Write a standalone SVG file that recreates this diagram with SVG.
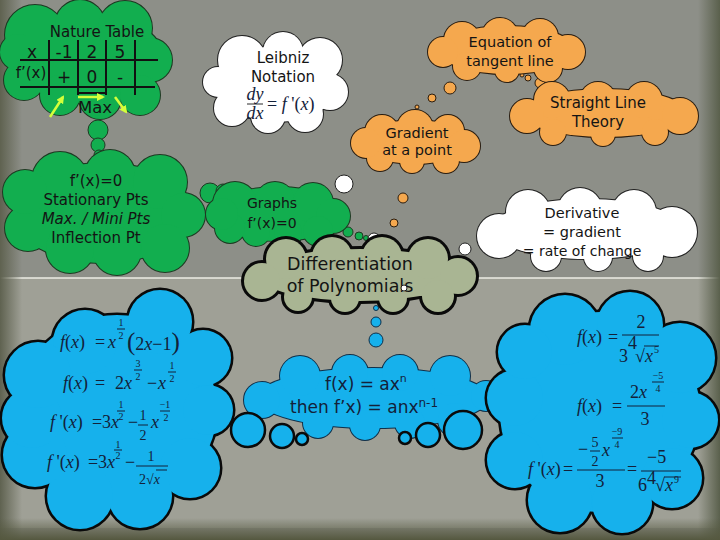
<svg xmlns="http://www.w3.org/2000/svg" xmlns:xlink="http://www.w3.org/1999/xlink" width="720" height="540" viewBox="0 0 720 540">
<style>
.t{font-family:"DejaVu Sans",sans-serif;fill:#141414;text-anchor:middle}
.ts{font-family:"DejaVu Sans",sans-serif;fill:#13213a;text-anchor:start;font-size:17px}
.m{font-family:"Liberation Serif",serif;fill:#13213a;font-size:18px}
.s{font-size:10px}
.f{font-size:14px}
.c{text-anchor:middle}
.i{font-style:italic}
.gS{fill:#12ae4f;stroke:#1d3a22;stroke-width:2}.gF{fill:#12ae4f}
.oS{fill:#f5a84e;stroke:#2a1d10;stroke-width:2}.oF{fill:#f5a84e}
.wS{fill:#fff;stroke:#222;stroke-width:2}.wF{fill:#fff}
.dS{fill:#a9b593;stroke:#0a0a0a;stroke-width:6}.dF{fill:#a9b593}
.bS{fill:#16b1ec;stroke:#0a0a0a;stroke-width:5}.bF{fill:#16b1ec}
.mS{fill:#16b1ec;stroke:#10304a;stroke-width:2}.mF{fill:#16b1ec}
.bub-g{fill:#12ae4f;stroke:#1d3a22;stroke-width:1}
.bub-o{fill:#f5a84e;stroke:#2a1d10;stroke-width:1}
.bub-w{fill:#fff;stroke:#222;stroke-width:1}
.bub-b{fill:#16b1ec;stroke:#10304a;stroke-width:1}
.bub-k{fill:#16b1ec;stroke:#0a0a0a;stroke-width:2.5}
.tl{stroke:#111;stroke-width:2;fill:none}
.ya{stroke:#d4ff3a;stroke-width:2.5;fill:none;marker-end:url(#yh)}
.bar{stroke:#13213a;stroke-width:1}
</style>
<defs>
<marker id="yh" markerWidth="8" markerHeight="8" refX="6" refY="4" orient="auto" markerUnits="userSpaceOnUse">
<path d="M0,0 L8,4 L0,8 Z" fill="#d4ff3a"/>
</marker>
<linearGradient id="lg" x1="0" y1="0" x2="1" y2="0">
<stop offset="0" stop-color="#5f6250"/><stop offset="1" stop-color="#5f6250" stop-opacity="0"/>
</linearGradient>
<linearGradient id="rg" x1="1" y1="0" x2="0" y2="0">
<stop offset="0" stop-color="#5a604c"/><stop offset="1" stop-color="#5a604c" stop-opacity="0"/>
</linearGradient>
<linearGradient id="bg2" x1="0" y1="1" x2="0" y2="0">
<stop offset="0" stop-color="#55583f"/><stop offset="1" stop-color="#55583f" stop-opacity="0"/>
</linearGradient>
<g id="cl-table">
<ellipse cx="88" cy="58" rx="75" ry="45"/>
<circle cx="35" cy="35" r="30"/><circle cx="80" cy="25" r="25"/><circle cx="125" cy="28" r="27"/>
<circle cx="150" cy="60" r="22"/><circle cx="140" cy="95" r="20"/><circle cx="100" cy="98" r="21"/>
<circle cx="60" cy="95" r="20"/><circle cx="24" cy="80" r="20"/><circle cx="18" cy="52" r="18"/>
</g>
<g id="cl-stat">
<ellipse cx="103" cy="213" rx="90" ry="50"/>
<circle cx="60" cy="180" r="28"/><circle cx="110" cy="175" r="25"/><circle cx="160" cy="182" r="27"/>
<circle cx="183" cy="215" r="22"/><circle cx="165" cy="248" r="24"/><circle cx="117" cy="251" r="24"/>
<circle cx="70" cy="249" r="24"/><circle cx="28" cy="228" r="23"/><circle cx="25" cy="192" r="22"/>
</g>
<g id="cl-graphs">
<ellipse cx="278" cy="214" rx="66" ry="27"/>
<circle cx="235" cy="204" r="22"/><circle cx="275" cy="202" r="20"/><circle cx="313" cy="203" r="20"/>
<circle cx="333" cy="216" r="17"/><circle cx="318" cy="231" r="15"/><circle cx="288" cy="233" r="14"/>
<circle cx="256" cy="232" r="14"/><circle cx="230" cy="228" r="15"/><circle cx="222" cy="214" r="16"/>
</g>
<g id="cl-leib">
<ellipse cx="278" cy="84" rx="60" ry="38"/>
<circle cx="242" cy="60" r="24"/><circle cx="283" cy="52" r="20"/><circle cx="320" cy="60" r="22"/>
<circle cx="330" cy="92" r="18"/><circle cx="305" cy="114" r="18"/><circle cx="268" cy="116" r="17"/>
<circle cx="232" cy="108" r="18"/><circle cx="218" cy="82" r="15"/>
</g>
<g id="cl-eq">
<ellipse cx="507" cy="50" rx="68" ry="24"/>
<circle cx="462" cy="40" r="18"/><circle cx="500" cy="36" r="18"/><circle cx="540" cy="37" r="18"/>
<circle cx="568" cy="52" r="17"/><circle cx="548" cy="68" r="14"/><circle cx="507" cy="70" r="12"/>
<circle cx="467" cy="66" r="14"/><circle cx="443" cy="52" r="15"/>
</g>
<g id="cl-sl">
<ellipse cx="605" cy="113" rx="82" ry="24"/>
<circle cx="552" cy="100" r="18"/><circle cx="598" cy="100" r="18"/><circle cx="644" cy="100" r="18"/>
<circle cx="680" cy="116" r="18"/><circle cx="655" cy="132" r="13"/><circle cx="603" cy="134" r="12"/>
<circle cx="553" cy="132" r="13"/><circle cx="527" cy="116" r="17"/>
</g>
<g id="cl-grad">
<ellipse cx="415" cy="142" rx="55" ry="22"/>
<circle cx="382" cy="132" r="17"/><circle cx="415" cy="128" r="18"/><circle cx="448" cy="131" r="16"/>
<circle cx="464" cy="146" r="16"/><circle cx="446" cy="160" r="13"/><circle cx="412" cy="161" r="12"/>
<circle cx="380" cy="158" r="13"/><circle cx="366" cy="143" r="15"/>
</g>
<g id="cl-der">
<ellipse cx="587" cy="229" rx="95" ry="30"/>
<circle cx="528" cy="212" r="22"/><circle cx="580" cy="210" r="22"/><circle cx="634" cy="212" r="22"/>
<circle cx="672" cy="232" r="25"/><circle cx="648" cy="256" r="15"/><circle cx="598" cy="257" r="14"/>
<circle cx="546" cy="256" r="15"/><circle cx="499" cy="236" r="22"/>
</g>
<g id="cl-diff">
<ellipse cx="360" cy="275" rx="102" ry="26"/>
<circle cx="286" cy="259" r="20"/><circle cx="332" cy="257" r="20"/><circle cx="382" cy="257" r="20"/>
<circle cx="428" cy="259" r="20"/><circle cx="458" cy="276" r="18"/><circle cx="438" cy="296" r="16"/>
<circle cx="393" cy="298" r="14"/><circle cx="345" cy="298" r="14"/><circle cx="298" cy="297" r="14"/>
<circle cx="262" cy="281" r="18"/>
</g>
<g id="cl-mid">
<ellipse cx="373" cy="398" rx="116" ry="30"/>
<circle cx="300" cy="376" r="20"/><circle cx="350" cy="373" r="18"/><circle cx="400" cy="373" r="18"/>
<circle cx="450" cy="376" r="20"/><circle cx="486" cy="396" r="15"/><circle cx="455" cy="420" r="17"/>
<circle cx="410" cy="423" r="15"/><circle cx="365" cy="425" r="15"/><circle cx="318" cy="423" r="15"/>
<circle cx="262" cy="400" r="18"/>
</g>
<g id="cl-left">
<ellipse cx="117" cy="410" rx="100" ry="95"/>
<circle cx="85" cy="342" r="32"/><circle cx="160" cy="322" r="32"/><circle cx="203" cy="358" r="28"/>
<circle cx="208" cy="410" r="25"/><circle cx="190" cy="468" r="30"/><circle cx="140" cy="496" r="32"/>
<circle cx="80" cy="496" r="33"/><circle cx="35" cy="455" r="32"/><circle cx="32" cy="418" r="30"/>
<circle cx="38" cy="375" r="33"/>
</g>
<g id="cl-right">
<ellipse cx="600" cy="412" rx="100" ry="100"/>
<circle cx="565" cy="330" r="35"/><circle cx="630" cy="325" r="33"/><circle cx="680" cy="358" r="35"/>
<circle cx="690" cy="420" r="28"/><circle cx="672" cy="478" r="30"/><circle cx="622" cy="503" r="30"/>
<circle cx="560" cy="500" r="32"/><circle cx="515" cy="460" r="28"/><circle cx="515" cy="398" r="28"/>
<circle cx="525" cy="352" r="27"/>
</g>
</defs>

<g id="background">
<rect width="720" height="540" fill="#8d8f88"/>
<rect y="278" width="720" height="250" fill="#9fa096"/>
<line x1="0" y1="278" x2="720" y2="278" stroke="#ecece4" stroke-width="1.5"/>
<rect width="22" height="540" fill="url(#lg)"/>
<rect x="698" width="22" height="540" fill="url(#rg)"/>
<rect y="518" width="720" height="22" fill="url(#bg2)"/>
</g>

<g id="connectors">
<circle class="bub-g" cx="98" cy="130" r="10"/>
<circle class="bub-g" cx="98" cy="145" r="7"/>
<circle class="bub-g" cx="99" cy="155" r="5"/>
<circle class="bub-g" cx="210" cy="193" r="10"/>
<circle class="bub-g" cx="223" cy="191" r="7"/>
<circle class="bub-g" cx="230" cy="190" r="5"/>
<circle class="bub-g" cx="348" cy="232" r="5"/>
<circle class="bub-g" cx="359" cy="236" r="4"/>
<circle class="bub-g" cx="366" cy="238" r="2.5"/>
<circle class="bub-w" cx="344" cy="184" r="9"/>
<circle class="bub-w" cx="374" cy="239" r="6"/>
<circle class="bub-w" cx="420" cy="258" r="3"/>
<circle class="bub-w" cx="439" cy="255" r="5"/>
<circle class="bub-w" cx="465" cy="249" r="6"/>
<circle class="bub-o" cx="403" cy="198" r="5"/>
<circle class="bub-o" cx="394" cy="223" r="4"/>
<circle class="bub-o" cx="387" cy="245" r="2"/>
<circle class="bub-o" cx="417" cy="107" r="2"/>
<circle class="bub-o" cx="432" cy="98" r="4"/>
<circle class="bub-o" cx="450" cy="88" r="6"/>
<circle class="bub-o" cx="522" cy="75" r="2"/>
<circle class="bub-o" cx="528" cy="78" r="3"/>
<circle class="bub-o" cx="540" cy="83" r="5"/>
<circle class="bub-b" cx="376" cy="308" r="2.5"/>
<circle class="bub-b" cx="376" cy="322" r="5"/>
<circle class="bub-b" cx="376" cy="340" r="7"/>
</g>

<g id="node-table">
<use xlink:href="#cl-table" href="#cl-table" class="gS"/>
<use xlink:href="#cl-table" href="#cl-table" class="gF"/>
<text class="t" x="97" y="37" font-size="15">Nature Table</text>
<path class="tl" d="M20,60 H158 M20,87 H155 M49,40 V95 M78,40 V95 M106,40 V95 M135,40 V95 M78,93 H106"/>
<text class="t" font-size="17" y="58"><tspan x="32">x</tspan><tspan x="64">-1</tspan><tspan x="92">2</tspan><tspan x="120">5</tspan></text>
<text class="t" x="31" y="78" font-size="15">f’(x)</text>
<text class="t" font-size="17" y="83"><tspan x="64">+</tspan><tspan x="92">0</tspan><tspan x="120">-</tspan></text>
<text class="t" x="95" y="113" font-size="16.5">Max</text>
<line class="ya" x1="50" y1="117" x2="63" y2="97"/>
<line class="ya" x1="78" y1="97" x2="103" y2="97"/>
<line class="ya" x1="115" y1="97" x2="126" y2="112"/>
</g>

<g id="node-stationary">
<use xlink:href="#cl-stat" href="#cl-stat" class="gS"/>
<use xlink:href="#cl-stat" href="#cl-stat" class="gF"/>
<text class="t" x="96" y="186" font-size="15">f’(x)=0</text>
<text class="t" x="96" y="205" font-size="15">Stationary Pts</text>
<text class="t" x="96" y="224" font-size="15" font-style="italic">Max. / Mini Pts</text>
<text class="t" x="96" y="243" font-size="15">Inflection Pt</text>
</g>

<g id="node-graphs">
<use xlink:href="#cl-graphs" href="#cl-graphs" class="gS"/>
<use xlink:href="#cl-graphs" href="#cl-graphs" class="gF"/>
<text class="t" x="272" y="208" font-size="14">Graphs</text>
<text class="t" x="272" y="228" font-size="14">f’(x)=0</text>
</g>

<g id="node-leibniz">
<use xlink:href="#cl-leib" href="#cl-leib" class="wS"/>
<use xlink:href="#cl-leib" href="#cl-leib" class="wF"/>
<text class="t" x="283" y="63" font-size="15">Leibniz</text>
<text class="t" x="283" y="82" font-size="15">Notation</text>
<text class="m i c" x="255" y="100" font-size="13" fill="#2a2a2a">dy</text>
<line x1="247" y1="104" x2="263" y2="104" stroke="#2a2a2a" stroke-width="1"/>
<text class="m i c" x="255" y="119" font-size="13" fill="#2a2a2a">dx</text>
<text class="m" x="267" y="110" font-size="14" fill="#2a2a2a">= <tspan class="i">f</tspan> '(<tspan class="i">x</tspan>)</text>
</g>

<g id="node-equation">
<use xlink:href="#cl-eq" href="#cl-eq" class="oS"/>
<use xlink:href="#cl-eq" href="#cl-eq" class="oF"/>
<text class="t" x="510" y="47" font-size="14.5">Equation of</text>
<text class="t" x="510" y="66" font-size="14.5">tangent line</text>
</g>

<g id="node-straight">
<use xlink:href="#cl-sl" href="#cl-sl" class="oS"/>
<use xlink:href="#cl-sl" href="#cl-sl" class="oF"/>
<text class="t" x="598" y="108" font-size="15">Straight Line</text>
<text class="t" x="598" y="127" font-size="15">Theory</text>
</g>

<g id="node-gradient">
<use xlink:href="#cl-grad" href="#cl-grad" class="oS"/>
<use xlink:href="#cl-grad" href="#cl-grad" class="oF"/>
<text class="t" x="417" y="138" font-size="14.5">Gradient</text>
<text class="t" x="417" y="155" font-size="14.5">at a point</text>
</g>

<g id="node-derivative">
<use xlink:href="#cl-der" href="#cl-der" class="wS"/>
<use xlink:href="#cl-der" href="#cl-der" class="wF"/>
<text class="t" x="582" y="218" font-size="14.5">Derivative</text>
<text class="t" x="582" y="237" font-size="14.5">= gradient</text>
<text class="t" x="582" y="256" font-size="14">= rate of change</text>
</g>

<g id="node-differentiation">
<use xlink:href="#cl-diff" href="#cl-diff" class="dS"/>
<use xlink:href="#cl-diff" href="#cl-diff" class="dF"/>
<text class="t" x="350" y="270" font-size="17.5">Differentiation</text>
<text class="t" x="350" y="292" font-size="17.5">of Polynomials</text>
<circle class="bub-w" cx="404" cy="288" r="3"/>
</g>

<g id="node-example1">
<use xlink:href="#cl-left" href="#cl-left" class="bS"/>
<use xlink:href="#cl-left" href="#cl-left" class="bF"/>
<text class="m" x="60" y="348"><tspan class="i">f</tspan>(<tspan class="i">x</tspan>)<tspan x="95">=</tspan><tspan x="108" class="i">x</tspan></text>
<text class="m s c" x="121" y="326">1</text><line class="bar" x1="117" y1="329" x2="125" y2="329"/><text class="m s c" x="121" y="339">2</text>
<text class="m" x="127" y="350"><tspan font-size="25">(</tspan>2<tspan class="i">x</tspan>−1<tspan font-size="25">)</tspan></text>
<text class="m" x="63" y="389"><tspan class="i">f</tspan>(<tspan class="i">x</tspan>)<tspan x="95">=</tspan><tspan x="115">2</tspan><tspan class="i">x</tspan></text>
<text class="m s c" x="138" y="367">3</text><line class="bar" x1="134" y1="370" x2="142" y2="370"/><text class="m s c" x="138" y="380">2</text>
<text class="m" x="147" y="389">−<tspan class="i" x="158">x</tspan></text>
<text class="m s c" x="172" y="369">1</text><line class="bar" x1="168" y1="372" x2="176" y2="372"/><text class="m s c" x="172" y="382">2</text>
<text class="m" x="50" y="428"><tspan class="i">f</tspan> '(<tspan class="i">x</tspan>)<tspan x="92">=</tspan><tspan x="102">3</tspan><tspan class="i">x</tspan></text>
<text class="m s c" x="121" y="408">1</text><line class="bar" x1="117" y1="411" x2="125" y2="411"/><text class="m s c" x="121" y="420">2</text>
<text class="m" x="128" y="428">−</text>
<text class="m f c" x="143" y="420">1</text><line class="bar" x1="138" y1="425" x2="148" y2="425"/><text class="m f c" x="143" y="440">2</text>
<text class="m i" x="151" y="428">x</text>
<text class="m s c" x="165" y="408">−1</text><line class="bar" x1="160" y1="411" x2="170" y2="411"/><text class="m s c" x="166" y="421">2</text>
<text class="m" x="47" y="468"><tspan class="i">f</tspan> '(<tspan class="i">x</tspan>)<tspan x="88">=</tspan><tspan x="98">3</tspan><tspan class="i">x</tspan></text>
<text class="m s c" x="118" y="448">1</text><line class="bar" x1="114" y1="450" x2="122" y2="450"/><text class="m s c" x="118" y="459">2</text>
<text class="m" x="125" y="468">−</text>
<text class="m f c" x="151" y="461">1</text><line class="bar" x1="136" y1="466" x2="168" y2="466"/>
<text class="m f" x="139" y="484">2√<tspan class="i">x</tspan></text><line class="bar" x1="156" y1="470" x2="167" y2="470"/>
</g>

<g id="node-rule">
<use xlink:href="#cl-mid" href="#cl-mid" class="mS"/>
<use xlink:href="#cl-mid" href="#cl-mid" class="mF"/>
<circle class="bub-k" cx="248" cy="430" r="17"/>
<circle class="bub-k" cx="282" cy="436" r="12"/>
<circle class="bub-k" cx="302" cy="439" r="6"/>
<circle class="bub-k" cx="405" cy="438" r="6"/>
<circle class="bub-k" cx="428" cy="435" r="12"/>
<circle class="bub-k" cx="463" cy="430" r="19"/>
<text class="ts" x="325" y="390">f(x) = ax<tspan font-size="11" dy="-8">n</tspan></text>
<text class="ts" x="290" y="413">then f’x) = anx<tspan font-size="12" dy="-6">n-1</tspan></text>
</g>

<g id="node-example2">
<use xlink:href="#cl-right" href="#cl-right" class="bS"/>
<use xlink:href="#cl-right" href="#cl-right" class="bF"/>
<text class="m" x="577" y="343"><tspan class="i">f</tspan>(<tspan class="i">x</tspan>)<tspan x="608">=</tspan></text>
<text class="m c" x="641" y="328">2</text>
<line class="bar" x1="622" y1="335" x2="659" y2="335"/>
<text class="m" x="619" y="362">3</text>
<text class="m" x="628" y="349" font-size="8">4</text>
<text class="m" x="635" y="362">√</text>
<line class="bar" x1="644" y1="346" x2="659" y2="346"/>
<text class="m i" x="645" y="362">x</text>
<text class="m s" x="654" y="353">5</text>
<text class="m" x="577" y="412"><tspan class="i">f</tspan>(<tspan class="i">x</tspan>)<tspan x="612">=</tspan></text>
<text class="m" x="630" y="398">2<tspan class="i">x</tspan></text>
<text class="m s c" x="658" y="379">−5</text><line class="bar" x1="652" y1="382" x2="664" y2="382"/><text class="m s c" x="658" y="392">4</text>
<line class="bar" x1="627" y1="406" x2="665" y2="406"/>
<text class="m c" x="645" y="425">3</text>
<text class="m" x="528" y="475"><tspan class="i">f</tspan> '(<tspan class="i">x</tspan>)<tspan x="563">=</tspan></text>
<text class="m" x="578" y="455">−</text>
<text class="m f c" x="595" y="447">5</text><line class="bar" x1="590" y1="451" x2="600" y2="451"/><text class="m f c" x="595" y="466">2</text>
<text class="m i" x="602" y="456">x</text>
<text class="m s c" x="617" y="435">−9</text><line class="bar" x1="612" y1="438" x2="623" y2="438"/><text class="m s c" x="617" y="448">4</text>
<line class="bar" x1="577" y1="470" x2="625" y2="470"/>
<text class="m c" x="600" y="487">3</text>
<text class="m" x="627" y="475">=</text>
<text class="m" x="647" y="463">−5</text>
<line class="bar" x1="641" y1="471" x2="681" y2="471"/>
<text class="m" x="638" y="491">6</text>
<text class="m" x="647" y="484" font-size="8">4</text>
<text class="m" x="655" y="491">√</text>
<line class="bar" x1="664" y1="477" x2="681" y2="477"/>
<text class="m i" x="665" y="491">x</text>
<text class="m s" x="674" y="483">9</text>
</g>
</svg>
